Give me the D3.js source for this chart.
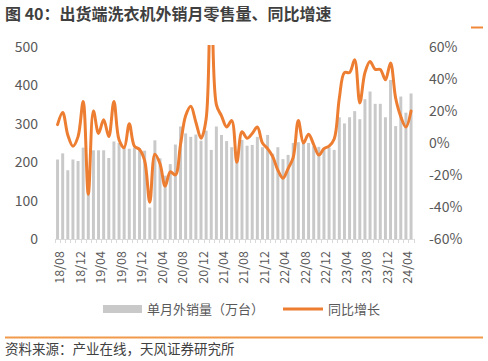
<!DOCTYPE html>
<html>
<head>
<meta charset="utf-8">
<script src="https://cdn.jsdelivr.net/npm/d3@7"></script>
<style>
  html, body { margin: 0; padding: 0; background: #fff; }
  svg { display: block; font-family: "Noto Sans CJK SC", "Noto Sans", sans-serif; }
</style>
</head>
<body>
<svg id="chart" width="488" height="361"></svg>
<script>
// ---- data ----
const title = "图 40：出货端洗衣机外销月零售量、同比增速";
const source = "资料来源：产业在线，天风证券研究所";
const seriesNames = ["单月外销量（万台）", "同比增长"];

const months = [
  "18/08","18/09","18/10","18/11","18/12",
  "19/01","19/02","19/03","19/04","19/05","19/06","19/07","19/08","19/09","19/10","19/11","19/12",
  "20/01","20/02","20/03","20/04","20/05","20/06","20/07","20/08","20/09","20/10","20/11","20/12",
  "21/01","21/02","21/03","21/04","21/05","21/06","21/07","21/08","21/09","21/10","21/11","21/12",
  "22/01","22/02","22/03","22/04","22/05","22/06","22/07","22/08","22/09","22/10","22/11","22/12",
  "23/01","23/02","23/03","23/04","23/05","23/06","23/07","23/08","23/09","23/10","23/11","23/12",
  "24/01","24/02","24/03","24/04","24/05"
];

const tickLabels = ["18/08","18/12","19/04","19/08","19/12","20/04","20/08","20/12","21/04",
  "21/08","21/12","22/04","22/08","22/12","23/04","23/08","23/12","24/04"];

// monthly export volume (10k units)
const volume = [
  207,223,179,207,203,
  238,125,231,231,231,211,254,250,237,235,238,237,
  230,82,257,210,165,195,246,293,275,266,272,256,
  282,232,293,271,255,239,218,258,243,245,266,239,
  271,222,239,208,219,250,252,253,250,242,240,235,
  238,232,317,301,317,333,312,364,384,352,352,317,
  414,294,371,329,379
];

// year-on-year growth (%)
const yoy = [
  11.5,19,5,-2,4,
  26,-32,20,6,14.5,4,26,2,-3,12,-2,-4,
  -11,-37,-7,-13,-27,-18,-20,-1,17,23,13,3,
  15,180,24,17,10,14,-12,7,3,6,10,0,
  -3.5,-8.5,-17,-22,-16,-9,14,0,5.5,-1,-7.5,-3.5,
  -2,2.5,28,44,44,52,25,44,51,46,46,39.5,
  50,28,16.5,10,20
];

const leftTicks = [0,100,200,300,400,500];
const rightTicks = [-60,-40,-20,0,20,40,60];

// ---- layout ----
const svg = d3.select("#chart");
const plot = { left: 55, right: 413.6, top: 47, bottom: 239 };
const gray = "#595959";

const x = d3.scaleBand().domain(months).range([plot.left, plot.right]).paddingInner(0.42).paddingOuter(0.21);
const yL = d3.scaleLinear().domain([0, 500]).range([plot.bottom, plot.top]);
const yR = d3.scaleLinear().domain([-60, 60]).range([plot.bottom, plot.top]);

// title
svg.append("text").attr("x", 5).attr("y", 20)
  .attr("font-size", 16).attr("font-weight", "bold").attr("fill", "#3f3f3f")
  .text(title);
svg.append("line").attr("x1", 471).attr("x2", 483).attr("y1", 27.5).attr("y2", 27.5)
  .attr("stroke", "#f0883a").attr("stroke-width", 2);

// bars
svg.append("g").selectAll("rect").data(volume).join("rect")
  .attr("x", (d, i) => x(months[i]))
  .attr("width", x.bandwidth())
  .attr("y", d => yL(d))
  .attr("height", d => yL(0) - yL(d))
  .attr("fill", "#c9c9c9");

// x axis line + ticks
const step = x.step();
const axisG = svg.append("g");
axisG.append("line").attr("x1", plot.left).attr("x2", plot.right)
  .attr("y1", plot.bottom + 0.5).attr("y2", plot.bottom + 0.5)
  .attr("stroke", "#d9d9d9").attr("stroke-width", 1);
const boundaries = d3.range(months.length + 1).map(i => plot.left + i * step);
axisG.selectAll("line.tk").data(boundaries).join("line").attr("class", "tk")
  .attr("x1", d => Math.round(d) + 0.5).attr("x2", d => Math.round(d) + 0.5)
  .attr("y1", plot.bottom).attr("y2", plot.bottom + 4)
  .attr("stroke", "#d9d9d9").attr("stroke-width", 1);

// x labels
svg.append("g").selectAll("text").data(tickLabels).join("text")
  .attr("transform", d => `translate(${x(d) + x.bandwidth() / 2 + 6.5},251) rotate(-90)`)
  .attr("text-anchor", "end")
  .attr("font-size", 12.5).attr("fill", gray)
  .text(d => d);

// left axis labels
svg.append("g").selectAll("text").data(leftTicks).join("text")
  .attr("x", 38).attr("y", d => yL(d) + 5)
  .attr("text-anchor", "end").attr("font-size", 14).attr("fill", gray)
  .text(d => d);

// right axis labels
svg.append("g").selectAll("text").data(rightTicks).join("text")
  .attr("x", 429).attr("y", d => yR(d) + 5)
  .attr("text-anchor", "start").attr("font-size", 14).attr("fill", gray)
  .text(d => d + "%");

// line (clipped to plot area)
svg.append("clipPath").attr("id", "clip").append("rect")
  .attr("x", plot.left - 5).attr("y", plot.top - 2)
  .attr("width", plot.right - plot.left + 10).attr("height", plot.bottom - plot.top + 20);
const line = d3.line()
  .x((d, i) => x(months[i]) + x.bandwidth() / 2)
  .y(d => yR(d))
  .curve(d3.curveCatmullRom.alpha(0.5));
svg.append("path").datum(yoy)
  .attr("clip-path", "url(#clip)")
  .attr("d", line)
  .attr("fill", "none").attr("stroke", "#ed7d31")
  .attr("stroke-width", 3).attr("stroke-linejoin", "round").attr("stroke-linecap", "round");

// legend
const lg = svg.append("g");
lg.append("rect").attr("x", 103).attr("y", 305).attr("width", 39).attr("height", 8).attr("fill", "#c9c9c9");
lg.append("text").attr("x", 147).attr("y", 314).attr("font-size", 13).attr("fill", gray).text(seriesNames[0]);
lg.append("line").attr("x1", 283).attr("x2", 323).attr("y1", 309).attr("y2", 309)
  .attr("stroke", "#ed7d31").attr("stroke-width", 3);
lg.append("text").attr("x", 328).attr("y", 314).attr("font-size", 13).attr("fill", gray).text(seriesNames[1]);

// footer
svg.append("line").attr("x1", 5).attr("x2", 483).attr("y1", 337.5).attr("y2", 337.5)
  .attr("stroke", "#f29a4c").attr("stroke-width", 2);
svg.append("text").attr("x", 5).attr("y", 353.5).attr("font-size", 13.5).attr("fill", "#404040").text(source);
</script>
</body>
</html>
